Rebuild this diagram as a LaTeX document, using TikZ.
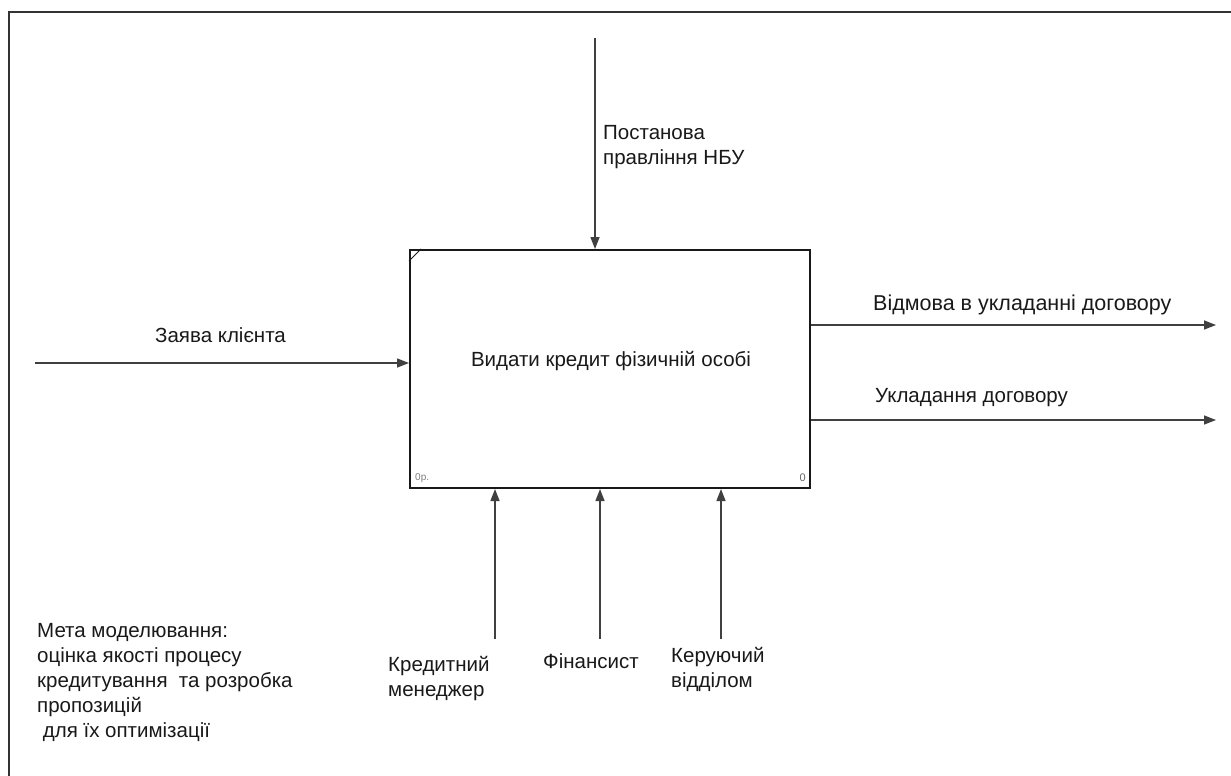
\documentclass[tikz,border=0pt]{standalone}
\usepackage{fontspec}
\setmainfont{Liberation Sans}
\usetikzlibrary{arrows.meta}
\begin{document}
\begin{tikzpicture}[x=1pt,y=-1pt,
  lbl/.style={inner sep=0pt,font=\fontsize{20.5}{25}\selectfont,text=black!90},
  arr/.style={draw=black!75,line width=1.4pt,-{Triangle[length=12pt,width=9pt]}},
  frameline/.style={draw=black!80,line width=2pt},
  procbox/.style={draw=black!90,line width=2pt,minimum width=400pt,minimum height=238pt,inner sep=0pt}]
\useasboundingbox (0,0) rectangle (1231,776);
\fill[white] (0,0) rectangle (1231,776);
% page frame (only the top and left edges fall inside the sheet)
\draw[frameline] (9,776) -- (9,12) -- (1231,12);
% activity box
\node[procbox] (proc) at (610,369) {};
\node[lbl,anchor=base] (ptitle) at (611,366) {Видати кредит фізичній особі};
\draw[black!90,line width=1pt] ([yshift=-12pt]proc.north west) -- ([xshift=12pt]proc.north west);
\node[inner sep=0pt,anchor=base west,font=\fontsize{10}{10}\selectfont,text=black!50] (pnum) at (415,480) {0р.};
\node[inner sep=0pt,anchor=base east,font=\fontsize{11}{11}\selectfont,text=black!60] (pid) at (806,481) {0};
% control
\coordinate (ctl) at (595,38);
\draw[arr] (ctl) -- (ctl |- proc.north);
\node[lbl,anchor=base west,align=left] (ctllbl) at (603,164) {Постанова\\правління НБУ};
% input
\coordinate (inp) at (35,363);
\draw[arr] (inp) -- (inp -| proc.west);
\node[lbl,anchor=base west] (inplbl) at (155,342) {Заява клієнта};
% outputs
\coordinate (out1) at (1216,325);
\coordinate (out2) at (1216,420);
\draw[arr] (out1 -| proc.east) -- (out1);
\draw[arr] (out2 -| proc.east) -- (out2);
\node[lbl,anchor=base west,font=\fontsize{21.5}{25}\selectfont] (out1lbl) at (873,310) {Відмова в укладанні договору};
\node[lbl,anchor=base west] (out2lbl) at (875,402) {Укладання договору};
% mechanisms
\coordinate (m1) at (495,639);
\coordinate (m2) at (600,639);
\coordinate (m3) at (721,639);
\draw[arr] (m1) -- (m1 |- proc.south);
\draw[arr] (m2) -- (m2 |- proc.south);
\draw[arr] (m3) -- (m3 |- proc.south);
\node[lbl,anchor=base west,align=left] (m1lbl) at (388,696) {Кредитний\\менеджер};
\node[lbl,anchor=base west] (m2lbl) at (543,668) {Фінансист};
\node[lbl,anchor=base west,align=left] (m3lbl) at (671,687) {Керуючий\\відділом};
% purpose note
\node[lbl,anchor=base west,align=left] (note) at (37,737) {Мета моделювання:\\оцінка якості процесу\\кредитування\ \ та розробка\\пропозицій\\\ для їх оптимізації};
\end{tikzpicture}
\end{document}
